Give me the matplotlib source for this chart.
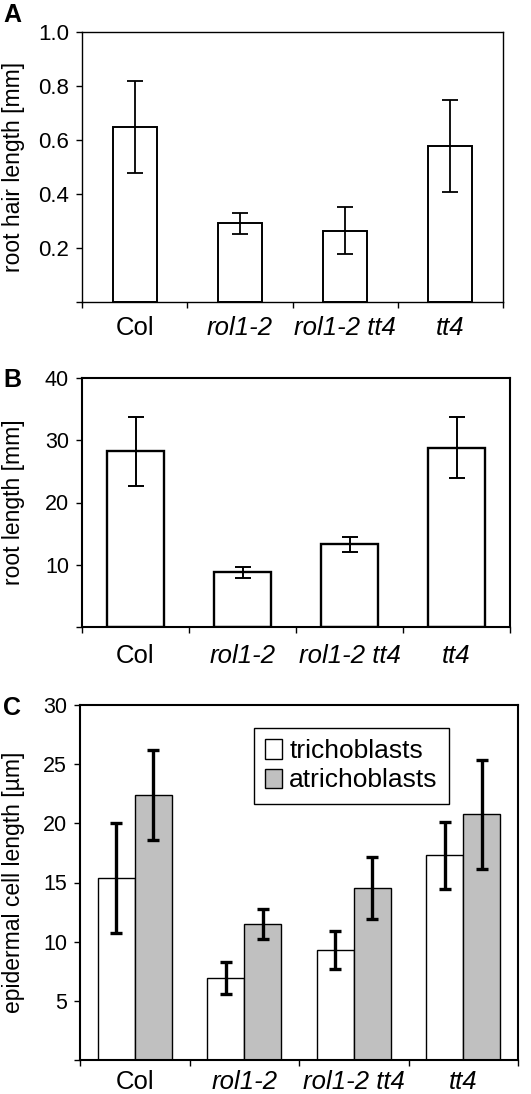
import matplotlib
matplotlib.use("Agg")
import matplotlib.pyplot as plt
import numpy as np

plt.rcParams['font.family'] = ['Liberation Sans', 'DejaVu Sans']

categories = ["Col", "rol1-2", "rol1-2 tt4", "tt4"]
italic = [False, True, True, True]

# Panel A: root hair length [mm]
hair_mean = [0.647, 0.291, 0.264, 0.578]
hair_err = [0.170, 0.039, 0.087, 0.170]

# Panel B: root length [mm]
root_mean = [28.2, 8.8, 13.3, 28.8]
root_err = [5.5, 0.85, 1.2, 4.9]

# Panel C: epidermal cell length [um]
tricho_mean = [15.4, 6.9, 9.3, 17.3]
tricho_err = [4.65, 1.35, 1.6, 2.85]
atricho_mean = [22.4, 11.5, 14.55, 20.75]
atricho_err = [3.8, 1.27, 2.6, 4.6]

W, H = 531, 1094
fig = plt.figure(figsize=(W / 100, H / 100), dpi=100)

def ax_at(l, t, r, b):
    return fig.add_axes([l / W, 1 - b / H, (r - l) / W, (b - t) / H])

def style(ax, ymax, step, spine_lw, ytick_fs, xpad, left_px, width_px):
    x = np.arange(len(categories))
    ax.set_xlim(-0.5, len(categories) - 0.5)
    ax.set_ylim(0, ymax)
    ticks = np.arange(0, ymax + step / 2, step)
    ax.set_yticks(ticks)
    ax.set_yticklabels([""] + [("%g" % t) if step >= 1 else ("%.1f" % t) for t in ticks[1:]],
                       fontsize=ytick_fs)
    ax.set_xticks(x)
    ax.set_xticklabels(categories, fontsize=18.5)
    for lab, it in zip(ax.get_xticklabels(), italic):
        if it:
            lab.set_style('italic')
    ax.set_xticks(np.arange(-0.5, len(categories)), minor=True)
    ax.tick_params(axis='x', which='major', length=0, pad=xpad)
    ax.tick_params(axis='x', which='minor', length=4.3, width=1, direction='out')
    ax.tick_params(axis='y', length=4.3, width=1, direction='out', pad=5)
    for s in ax.spines.values():
        s.set_linewidth(spine_lw)
        s.set_color('black')
    ax.yaxis.set_label_coords((25 - left_px) / width_px, 0.5)

# Panel A
axA = ax_at(82, 32, 503, 302)
xa = np.arange(len(categories))
axA.bar(xa, hair_mean, width=0.42, color='white', edgecolor='black', linewidth=1.4, zorder=2)
axA.errorbar(xa, hair_mean, yerr=hair_err, fmt='none', ecolor='black', elinewidth=1.3,
             capsize=6, capthick=1.3, zorder=3)
axA.set_ylabel("root hair length [mm]", fontsize=16.5)
style(axA, 1.0, 0.2, 1.0, 16, 10, 82, 421)

# Panel B
axB = ax_at(82, 378, 510, 627)
axB.bar(xa, root_mean, width=0.53, color='white', edgecolor='black', linewidth=1.7, zorder=2)
axB.errorbar(xa, root_mean, yerr=root_err, fmt='none', ecolor='black', elinewidth=1.4,
             capsize=6, capthick=1.4, zorder=3)
axB.set_ylabel("root length [mm]", fontsize=16.5)
style(axB, 40, 10, 1.5, 15.5, 12, 82, 428)

# Panel C
axC = ax_at(80, 705, 518, 1060)
bw = 0.34
axC.bar(xa - bw / 2, tricho_mean, width=bw, color='white', edgecolor='black', linewidth=1.0,
        zorder=2, label='trichoblasts')
axC.bar(xa + bw / 2, atricho_mean, width=bw, color='#c0c0c0', edgecolor='black', linewidth=1.0,
        zorder=2, label='atrichoblasts')
axC.errorbar(xa - bw / 2, tricho_mean, yerr=tricho_err, fmt='none', ecolor='black',
             elinewidth=2.4, capsize=4.5, capthick=2.4, zorder=3)
axC.errorbar(xa + bw / 2, atricho_mean, yerr=atricho_err, fmt='none', ecolor='black',
             elinewidth=2.4, capsize=4.5, capthick=2.4, zorder=3)
axC.set_ylabel("epidermal cell length [µm]", fontsize=16.5)
style(axC, 30, 5, 1.5, 15.5, 7, 80, 438)
leg = axC.legend(loc='upper left', bbox_to_anchor=(0.397, 0.935), fontsize=19, frameon=True,
                 fancybox=False, edgecolor='black', framealpha=1, borderpad=0.42,
                 handlelength=0.65, handleheight=0.75, handletextpad=0.27, labelspacing=0.2,
                 borderaxespad=0)
leg.get_frame().set_linewidth(1.0)

# Panel letters
fig.text(3 / W, 1 - 22 / H, "A", fontsize=18, fontweight='bold', va='baseline', ha='left')
fig.text(3 / W, 1 - 387 / H, "B", fontsize=18, fontweight='bold', va='baseline', ha='left')
fig.text(3 / W, 1 - 715 / H, "C", fontsize=18, fontweight='bold', va='baseline', ha='left')

fig.savefig("out.png", dpi=100)
